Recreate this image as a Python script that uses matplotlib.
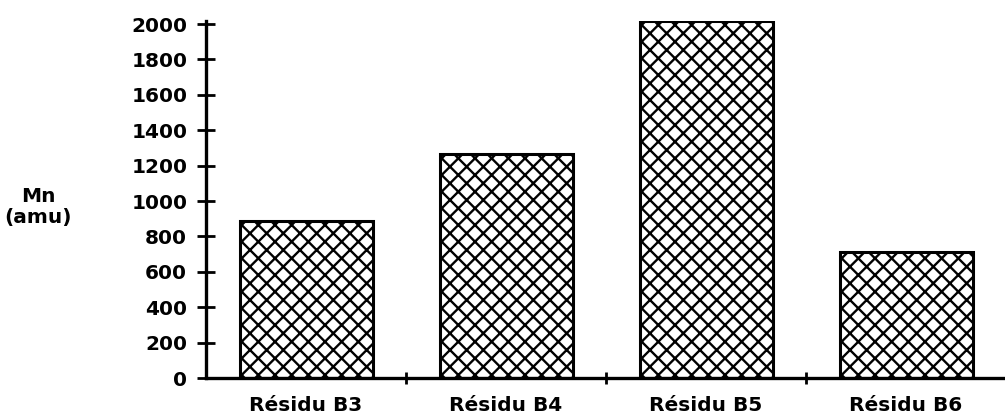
import matplotlib.pyplot as plt
import matplotlib as mpl

categories = ["Résidu B3", "Résidu B4", "Résidu B5", "Résidu B6"]
mn_values = [888, 1264, 2019, 713]
y_ticks = [0, 200, 400, 600, 800, 1000, 1200, 1400, 1600, 1800, 2000]

mpl.rcParams['font.family'] = 'DejaVu Sans'
mpl.rcParams['font.weight'] = 'bold'
mpl.rcParams['hatch.linewidth'] = 1.7

fig = plt.figure(figsize=(10.05, 4.18), dpi=100)
ax = fig.add_axes([206 / 1005, 40 / 418, 800 / 1005, 357.5 / 418])

x = list(range(len(categories)))
ax.bar(x, mn_values, width=0.665, color='white', edgecolor='black',
       linewidth=2.2, hatch='xx')

ax.set_xlim(-0.5, 3.5)
ax.set_ylim(0, 2020)

for side in ['top', 'right']:
    ax.spines[side].set_visible(False)
for side in ['left', 'bottom']:
    ax.spines[side].set_linewidth(2.4)

ax.set_yticks(y_ticks)
ax.set_yticklabels([str(v) for v in y_ticks], fontsize=14.5)
ax.tick_params(axis='y', direction='inout', length=13, width=2, pad=7)

ax.set_xticks(x)
ax.set_xticklabels(categories, fontsize=14.5)
ax.set_xticks([0.5, 1.5, 2.5], minor=True)
ax.tick_params(axis='x', which='major', length=0, pad=13)
ax.tick_params(axis='x', which='minor', direction='inout', length=9, width=2)

fig.text(38 / 1005, 1 - 207 / 418, "Mn\n(amu)", fontsize=14.5,
         ha='center', va='center', linespacing=1.1)

fig.savefig('out.png', dpi=100)
